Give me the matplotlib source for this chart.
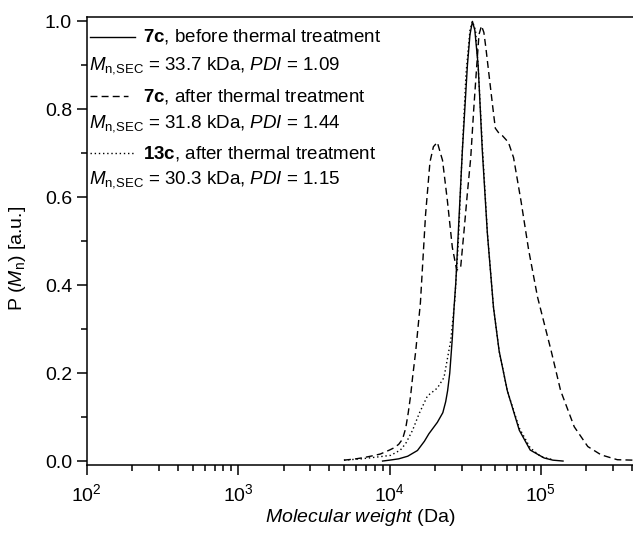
import matplotlib
matplotlib.use("Agg")
import matplotlib.pyplot as plt
from matplotlib.ticker import MultipleLocator, LogLocator, NullFormatter
from matplotlib.lines import Line2D

plt.rcParams['font.family'] = ['Liberation Sans', 'DejaVu Sans']
plt.rcParams['mathtext.fontset'] = 'custom'
plt.rcParams['mathtext.rm'] = 'Liberation Sans'
plt.rcParams['mathtext.it'] = 'Liberation Sans:italic'
plt.rcParams['mathtext.bf'] = 'Liberation Sans:bold'
plt.rcParams['mathtext.default'] = 'regular'

# 7c, before thermal treatment (solid)
mw_before = [9.0e3, 1.0e4, 1.15e4, 1.32e4, 1.53e4, 1.7e4, 1.82e4, 2.07e4, 2.25e4, 2.35e4,
             2.42e4, 2.5e4, 2.6e4, 2.67e4, 2.74e4, 2.88e4, 3.03e4, 3.27e4, 3.4e4, 3.53e4,
             3.66e4, 3.85e4, 4.1e4, 4.43e4, 4.86e4, 5.3e4, 6.0e4, 7.2e4, 8.5e4, 1.05e5,
             1.2e5, 1.4e5]
p_before = [0.0, 0.002, 0.005, 0.011, 0.024, 0.045, 0.062, 0.088, 0.11, 0.135,
            0.16, 0.2, 0.28, 0.35, 0.405, 0.555, 0.707, 0.9, 0.97, 1.0,
            0.98, 0.9, 0.707, 0.518, 0.35, 0.25, 0.16, 0.07, 0.025, 0.007,
            0.002, 0.0]

# 7c, after thermal treatment (dashed)
mw_after = [5.0e3, 6.0e3, 6.8e3, 8.0e3, 8.7e3, 1.0e4, 1.07e4, 1.15e4, 1.22e4, 1.28e4,
            1.33e4, 1.38e4, 1.42e4, 1.49e4, 1.6e4, 1.73e4, 1.85e4, 1.95e4, 2.07e4, 2.15e4,
            2.24e4, 2.41e4, 2.6e4, 2.78e4, 2.95e4, 3.1e4, 3.27e4, 3.44e4, 3.6e4, 3.77e4,
            3.9e4, 4.05e4, 4.2e4, 4.33e4, 4.79e4, 5.0e4, 5.3e4, 5.57e4, 6.1e4, 6.6e4,
            7.4e4, 8.3e4, 9.5e4, 1.17e5, 1.35e5, 1.66e5, 2.04e5, 2.5e5, 3.2e5, 4.1e5]
p_after = [0.002, 0.005, 0.008, 0.013, 0.016, 0.025, 0.03, 0.038, 0.05, 0.075,
           0.11, 0.15, 0.19, 0.25, 0.36, 0.56, 0.68, 0.715, 0.725, 0.705,
           0.684, 0.593, 0.486, 0.434, 0.44, 0.52, 0.61, 0.69, 0.8, 0.9,
           0.97, 0.99, 0.975, 0.94, 0.81, 0.757, 0.745, 0.74, 0.725, 0.69,
           0.59, 0.48, 0.373, 0.25, 0.16, 0.078, 0.033, 0.014, 0.003, 0.002]

# 13c, after thermal treatment (dotted)
mw_13c = [5.0e3, 6.5e3, 8.7e3, 1.02e4, 1.18e4, 1.28e4, 1.42e4, 1.57e4, 1.78e4, 2.07e4,
          2.29e4, 2.54e4, 2.7e4, 2.85e4, 3.0e4, 3.2e4, 3.4e4, 3.53e4, 3.7e4, 3.85e4,
          4.1e4, 4.43e4, 4.86e4, 5.3e4, 6.0e4, 7.2e4, 8.5e4, 1.0e5, 1.2e5]
p_13c = [0.002, 0.005, 0.01, 0.013, 0.025, 0.04, 0.07, 0.108, 0.148, 0.166,
         0.19, 0.275, 0.366, 0.5, 0.68, 0.88, 0.98, 1.0, 0.98, 0.9,
         0.72, 0.52, 0.35, 0.25, 0.16, 0.075, 0.03, 0.01, 0.003]

legend_title = [r'$\mathbf{7c}$, before thermal treatment',
                r'$\mathbf{7c}$, after thermal treatment',
                r'$\mathbf{13c}$, after thermal treatment']
legend_stats = [r'$\mathit{M}_\mathrm{n{,}SEC}$ = 33.7 kDa, $\mathit{PDI}$ = 1.09',
                r'$\mathit{M}_\mathrm{n{,}SEC}$ = 31.8 kDa, $\mathit{PDI}$ = 1.44',
                r'$\mathit{M}_\mathrm{n{,}SEC}$ = 30.3 kDa, $\mathit{PDI}$ = 1.15']

W, H = 633, 534
fig = plt.figure(figsize=(W / 100, H / 100), dpi=100)
ax = fig.add_axes([86.7 / W, 1 - 465 / H, (634 - 86.7) / W, (465 - 17) / H])

lw = 1.0
ax.plot(mw_before, p_before, color='black', lw=lw, ls='-')
ax.plot(mw_after, p_after, color='black', lw=lw, ls=(0, (5, 3)))
ax.plot(mw_13c, p_13c, color='black', lw=lw, ls=(0, (1, 2)))

ax.set_xscale('log')
ax.set_xlim(100, 4.12e5)
ax.set_ylim(-0.009, 1.01)

ax.spines['right'].set_visible(False)
for s in ['left', 'bottom', 'top']:
    ax.spines[s].set_linewidth(1.1)

ax.yaxis.set_major_locator(MultipleLocator(0.2))
ax.yaxis.set_minor_locator(MultipleLocator(0.1))
ax.yaxis.set_major_formatter(matplotlib.ticker.FormatStrFormatter('%.1f'))
ax.xaxis.set_major_locator(LogLocator(base=10, numticks=10))
ax.xaxis.set_minor_locator(LogLocator(base=10, subs=range(2, 10), numticks=20))
ax.xaxis.set_minor_formatter(NullFormatter())

ax.tick_params(axis='both', which='major', direction='out', length=7, width=1.1,
               labelsize=14, top=False, right=False)
ax.tick_params(axis='both', which='minor', direction='out', length=4, width=1.1,
               top=False, right=False)
ax.tick_params(axis='x', which='major', pad=6)

ax.set_xlabel(r'$\mathit{Molecular\ weight}$ (Da)', fontsize=14)
ax.set_ylabel(r'P ($\mathit{M}_\mathrm{n}$) [a.u.]', fontsize=14)
ax.xaxis.set_label_coords(0.5, -0.093)
ax.yaxis.set_label_coords(-0.107, 0.462)

# legend
styles = ['-', (0, (5, 3)), (0, (1, 2))]
sample_ends = [135, 128, 135]
title_y = [42, 101, 158]
stats_y = [69, 127, 183]
for i in range(3):
    y = 1 - (title_y[i] - 5) / H
    fig.add_artist(Line2D([90 / W, sample_ends[i] / W], [y, y], color='black', lw=lw,
                          ls=styles[i], transform=fig.transFigure))
    fig.text(143 / W, 1 - title_y[i] / H, legend_title[i], fontsize=13.5,
             ha='left', va='baseline')
    fig.text(89 / W, 1 - stats_y[i] / H, legend_stats[i], fontsize=13.5,
             ha='left', va='baseline')

fig.savefig('out.png', dpi=100)
